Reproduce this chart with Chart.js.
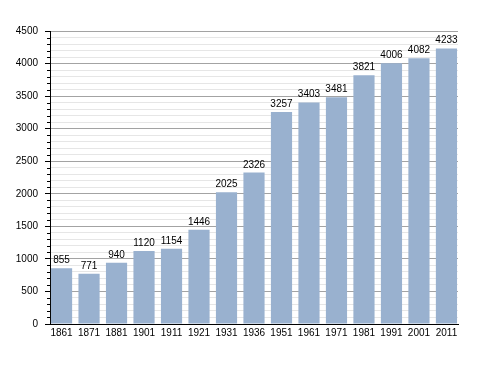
<!DOCTYPE html>
<html>
<head>
<meta charset="utf-8">
<script src="https://cdn.jsdelivr.net/npm/chart.js@4/dist/chart.umd.min.js"></script>
<style>
  html, body { margin: 0; padding: 0; background: #ffffff; }
  canvas { display: block; }
</style>
</head>
<body>
<canvas id="c" width="488" height="373"></canvas>
<script>
const years = ['1861','1871','1881','1901','1911','1921','1931','1936','1951','1961','1971','1981','1991','2001','2011'];
const population = [855, 771, 940, 1120, 1154, 1446, 2025, 2326, 3257, 3403, 3481, 3821, 4006, 4082, 4233];
const yMin = 0;
const yMax = 4500;
const yMinorStep = 100;
const yMajorStep = 500;

const FONT = '"Liberation Sans", Arial, sans-serif';
const BAR_COLOR = '#99b1cf';

const valueLabels = {
  id: 'valueLabels',
  afterDatasetsDraw(chart) {
    const ctx = chart.ctx;
    const meta = chart.getDatasetMeta(0);
    ctx.save();
    ctx.font = '10px ' + FONT;
    ctx.fillStyle = '#000';
    ctx.textAlign = 'center';
    ctx.textBaseline = 'alphabetic';
    meta.data.forEach((bar, i) => {
      ctx.fillText(String(population[i]), bar.x, bar.y - 5);
    });
    ctx.restore();
  }
};

const minorTicks = {
  id: 'minorTicks',
  afterDraw(chart) {
    const s = chart.scales.y;
    const ctx = chart.ctx;
    ctx.save();
    ctx.strokeStyle = '#000';
    ctx.lineWidth = 1;
    ctx.beginPath();
    for (let v = yMin; v <= yMax; v += yMinorStep) {
      if (v % yMajorStep === 0) continue;
      const y = Math.round(s.getPixelForValue(v)) + 0.5;
      ctx.moveTo(s.right - 3, y);
      ctx.lineTo(s.right, y);
    }
    ctx.stroke();
    ctx.restore();
  }
};

new Chart(document.getElementById('c'), {
  type: 'bar',
  data: {
    datasets: [{
      data: years.map((_, i) => ({ x: i, y: population[i] })),
      backgroundColor: BAR_COLOR,
      borderWidth: 0,
      barPercentage: 0.77,
      categoryPercentage: 1.0
    }]
  },
  options: {
    responsive: false,
    animation: false,
    devicePixelRatio: 1,
    layout: { padding: { top: 31, right: 30, bottom: 0, left: 0 } },
    plugins: { legend: { display: false }, tooltip: { enabled: false } },
    scales: {
      x: {
        type: 'linear',
        offset: false,
        min: -0.42,
        max: years.length - 1 + 0.42,
        afterBuildTicks(scale) {
          scale.ticks = years.map((_, i) => ({ value: i }));
        },
        afterFit(scale) { scale.height = 49; },
        grid: { display: false, drawTicks: false, offset: false },
        border: { display: true, color: '#000', width: 1 },
        ticks: {
          autoSkip: false,
          maxRotation: 0,
          padding: 3,
          color: '#000',
          font: { family: FONT, size: 10 },
          callback: (v) => years[v]
        }
      },
      y: {
        min: yMin,
        max: yMax,
        afterFit(scale) { scale.width = 50; },
        border: { display: true, color: '#000', width: 1 },
        grid: {
          color: (c) => (c.tick && c.tick.value % yMajorStep === 0) ? '#a3a3a3' : '#e6e6e6',
          tickColor: (c) => (c.tick && c.tick.value % yMajorStep === 0) ? '#000' : 'rgba(0,0,0,0)',
          tickLength: 5
        },
        ticks: {
          stepSize: yMinorStep,
          autoSkip: false,
          padding: 7,
          color: '#000',
          font: { family: FONT, size: 10 },
          callback: (v) => (v % yMajorStep === 0) ? String(v) : ''
        }
      }
    }
  },
  plugins: [valueLabels, minorTicks]
});
</script>
</body>
</html>
